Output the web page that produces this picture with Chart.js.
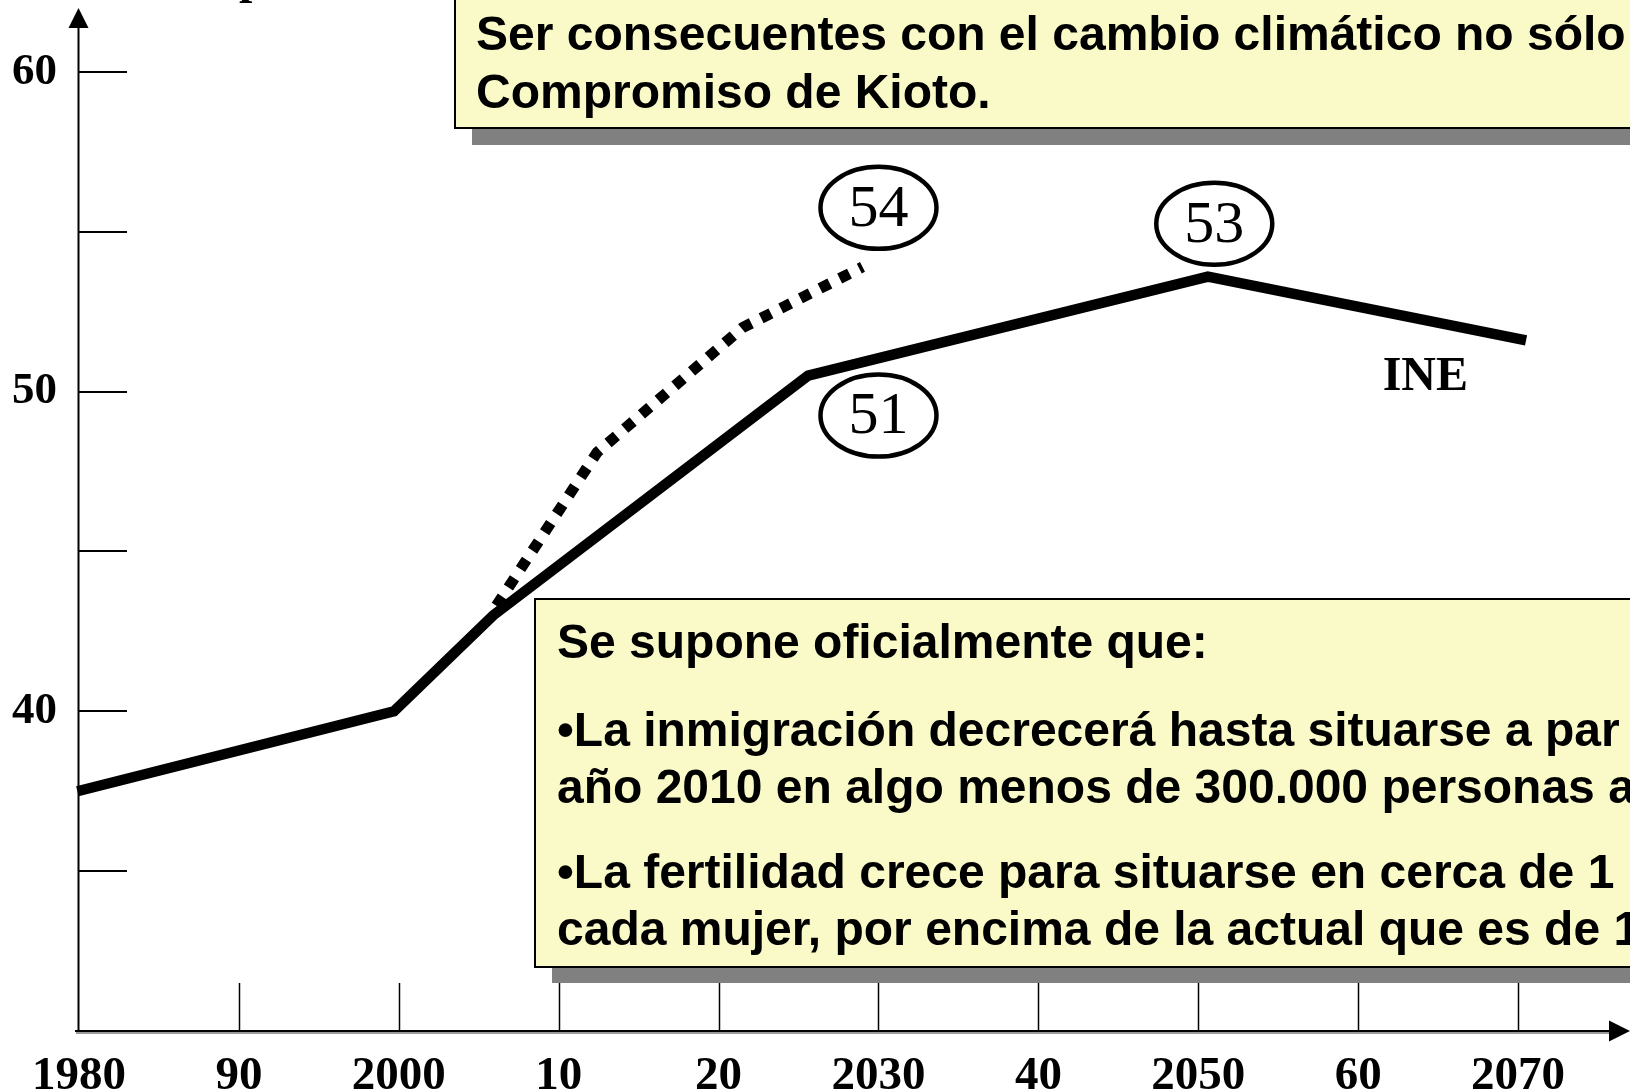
<!DOCTYPE html>
<html><head><meta charset="utf-8">
<script src="https://cdn.jsdelivr.net/npm/chart.js@4/dist/chart.umd.min.js"></script>
<style>html,body{margin:0;padding:0;background:#fff;overflow:hidden}</style>
</head><body>
<canvas id="c" width="1630" height="1092"></canvas>
<script>
// ---- data ----
const xTickYears = [1980,1990,2000,2010,2020,2030,2040,2050,2060,2070];
const xTickLabels = ['1980','90','2000','10','20','2030','40','2050','60','2070'];
const yTickValues = [35,40,45,50,55,60];
const yTickLabels = ['','40','','50','','60'];
const ineYears = [1979.9,1999.7,2005.9,2025.6,2050.6,2070.5];
const ineValues = [37.5,40,43,50.5,53.6,51.6];
const altYears = [2006.1,2012.4,2021.5,2029];
const altValues = [43.3,48.1,52.0,53.9];
const calloutTexts = ['54','51','53'];
const calloutYears = [2030,2030,2051];
const calloutValues = [55.75,49.25,55.25];
const seriesName = 'INE';
const seriesNameAt = [2064.2, 50.5];
const topBoxLines = ['Ser consecuentes con el cambio climático no sólo','Compromiso de Kioto.'];
const bottomBoxLines = ['Se supone oficialmente que:','•La inmigración decrecerá hasta situarse a par','año 2010 en algo menos de 300.000 personas a','•La fertilidad crece para situarse en cerca de 1','cada mujer, por encima de la actual que es de 1'];
const titleFragment = 'p';

const SERIF = '"Liberation Serif","Times New Roman",serif';
const SANS = '"Liberation Sans",Arial,sans-serif';
const BOX_FILL = '#FAFAC8';
const SHADOW = '#808080';

const decor = {
  id: 'decor',
  beforeDatasetsDraw(chart) {
    const {ctx, chartArea: a, scales: {x, y}} = chart;
    ctx.save();
    ctx.strokeStyle = '#000';
    // x-axis inner ticks
    ctx.lineWidth = 1.5;
    xTickYears.forEach((v, i) => {
      if (i === 0) return;
      const px = Math.round(x.getPixelForValue(v)) + 0.5;
      ctx.beginPath(); ctx.moveTo(px, a.bottom); ctx.lineTo(px, a.bottom - 48); ctx.stroke();
    });
    // y-axis inner ticks
    ctx.lineWidth = 2;
    yTickValues.forEach(v => {
      const py = Math.round(y.getPixelForValue(v));
      ctx.beginPath(); ctx.moveTo(a.left - 1, py); ctx.lineTo(a.left + 48, py); ctx.stroke();
    });
    // y axis with arrow
    const ax = a.left - 0.5;
    ctx.lineWidth = 2;
    ctx.beginPath(); ctx.moveTo(ax, a.bottom); ctx.lineTo(ax, a.top + 18); ctx.stroke();
    ctx.fillStyle = '#000';
    ctx.beginPath(); ctx.moveTo(ax, a.top); ctx.lineTo(ax - 10, a.top + 20); ctx.lineTo(ax + 10, a.top + 20); ctx.closePath(); ctx.fill();
    // x axis with arrow
    ctx.strokeStyle = '#9a9a9a'; ctx.lineWidth = 2;
    ctx.beginPath(); ctx.moveTo(a.left - 3, a.bottom + 2); ctx.lineTo(a.right - 20, a.bottom + 2); ctx.stroke();
    ctx.strokeStyle = '#000'; ctx.lineWidth = 2;
    ctx.beginPath(); ctx.moveTo(a.left - 4, a.bottom); ctx.lineTo(a.right - 18, a.bottom); ctx.stroke();
    ctx.beginPath(); ctx.moveTo(a.right, a.bottom); ctx.lineTo(a.right - 21, a.bottom - 10.5); ctx.lineTo(a.right - 21, a.bottom + 10.5); ctx.closePath(); ctx.fill();
    ctx.restore();
  },
  afterDatasetsDraw(chart) {
    const {ctx, scales: {x, y}} = chart;
    ctx.save();
    // callout ellipses
    calloutTexts.forEach((t, i) => {
      const cx = x.getPixelForValue(calloutYears[i]);
      const cy = y.getPixelForValue(calloutValues[i]);
      ctx.lineWidth = 4.5; ctx.strokeStyle = '#000';
      ctx.beginPath(); ctx.ellipse(cx, cy, 58, 41, 0, 0, Math.PI * 2); ctx.stroke();
      ctx.fillStyle = '#000';
      ctx.font = '60px ' + SERIF;
      ctx.textAlign = 'center'; ctx.textBaseline = 'middle';
      ctx.fillText(t, cx, cy + 2);
    });
    // series name
    ctx.font = 'bold 48px ' + SERIF;
    ctx.textAlign = 'center'; ctx.textBaseline = 'middle';
    ctx.fillText(seriesName, x.getPixelForValue(seriesNameAt[0]), y.getPixelForValue(seriesNameAt[1]) + 2);
    ctx.restore();
  },
  afterDraw(chart) {
    const {ctx} = chart;
    ctx.save();
    // title fragment (cut off at top)
    ctx.fillStyle = '#000';
    ctx.font = 'bold 48px ' + SERIF;
    ctx.textAlign = 'left'; ctx.textBaseline = 'alphabetic';
    ctx.fillText(titleFragment, 239, -7);
    // top box
    ctx.fillStyle = SHADOW; ctx.fillRect(472, 0, 1300, 145);
    ctx.fillStyle = BOX_FILL; ctx.fillRect(455, -20, 1300, 148);
    ctx.strokeStyle = '#000'; ctx.lineWidth = 2; ctx.strokeRect(455, -20, 1300, 148);
    ctx.fillStyle = '#000'; ctx.font = 'bold 48px ' + SANS;
    ctx.fillText(topBoxLines[0], 476, 50);
    ctx.fillText(topBoxLines[1], 476, 108);
    // bottom box
    ctx.fillStyle = SHADOW; ctx.fillRect(552, 616, 1200, 367);
    ctx.fillStyle = BOX_FILL; ctx.fillRect(535, 599, 1200, 368);
    ctx.strokeStyle = '#000'; ctx.lineWidth = 2; ctx.strokeRect(535, 599, 1200, 368);
    ctx.fillStyle = '#000';
    const baselines = [658, 746, 803, 888, 945];
    bottomBoxLines.forEach((t, i) => ctx.fillText(t, 557, baselines[i]));
    ctx.restore();
  }
};

const lineStyle = {borderColor: '#000', borderWidth: 10.5, pointRadius: 0, borderJoinStyle: 'miter', borderCapStyle: 'butt', tension: 0, clip: false, fill: false};

new Chart(document.getElementById('c').getContext('2d'), {
  type: 'line',
  data: {
    datasets: [
      Object.assign({label: seriesName, data: ineYears.map((v, i) => ({x: v, y: ineValues[i]}))}, lineStyle),
      Object.assign({label: 'alternativa', data: altYears.map((v, i) => ({x: v, y: altValues[i]})), borderDash: [11, 11]}, lineStyle, {borderWidth: 11})
    ]
  },
  options: {
    responsive: false, animation: false, devicePixelRatio: 1, events: [],
    layout: {padding: {top: 8, left: 0, right: 0, bottom: 0}},
    plugins: {legend: {display: false}, tooltip: {enabled: false}},
    scales: {
      x: {
        type: 'linear', min: 1980, max: 2077,
        afterBuildTicks(s) { s.ticks = xTickYears.map(v => ({value: v})); },
        afterFit(s) { s.height = 61; s.paddingLeft = 0; s.paddingRight = 0; },
        grid: {display: false, drawTicks: false}, border: {display: false},
        ticks: {padding: 18, color: '#000', autoSkip: false, maxRotation: 0,
          font: {family: SERIF, size: 47, weight: 'bold'},
          callback(v) { const i = xTickYears.indexOf(v); return i >= 0 ? xTickLabels[i] : ''; }}
      },
      y: {
        type: 'linear', min: 30, max: 62,
        afterBuildTicks(s) { s.ticks = yTickValues.map(v => ({value: v})); },
        afterFit(s) { s.width = 79; s.paddingTop = 0; s.paddingBottom = 0; },
        grid: {display: false, drawTicks: false}, border: {display: false},
        ticks: {padding: 22, color: '#000',
          font: {family: SERIF, size: 45, weight: 'bold'},
          callback(v) { const i = yTickValues.indexOf(v); return i >= 0 ? yTickLabels[i] : ''; }}
      }
    }
  },
  plugins: [decor]
});
</script>
</body></html>
